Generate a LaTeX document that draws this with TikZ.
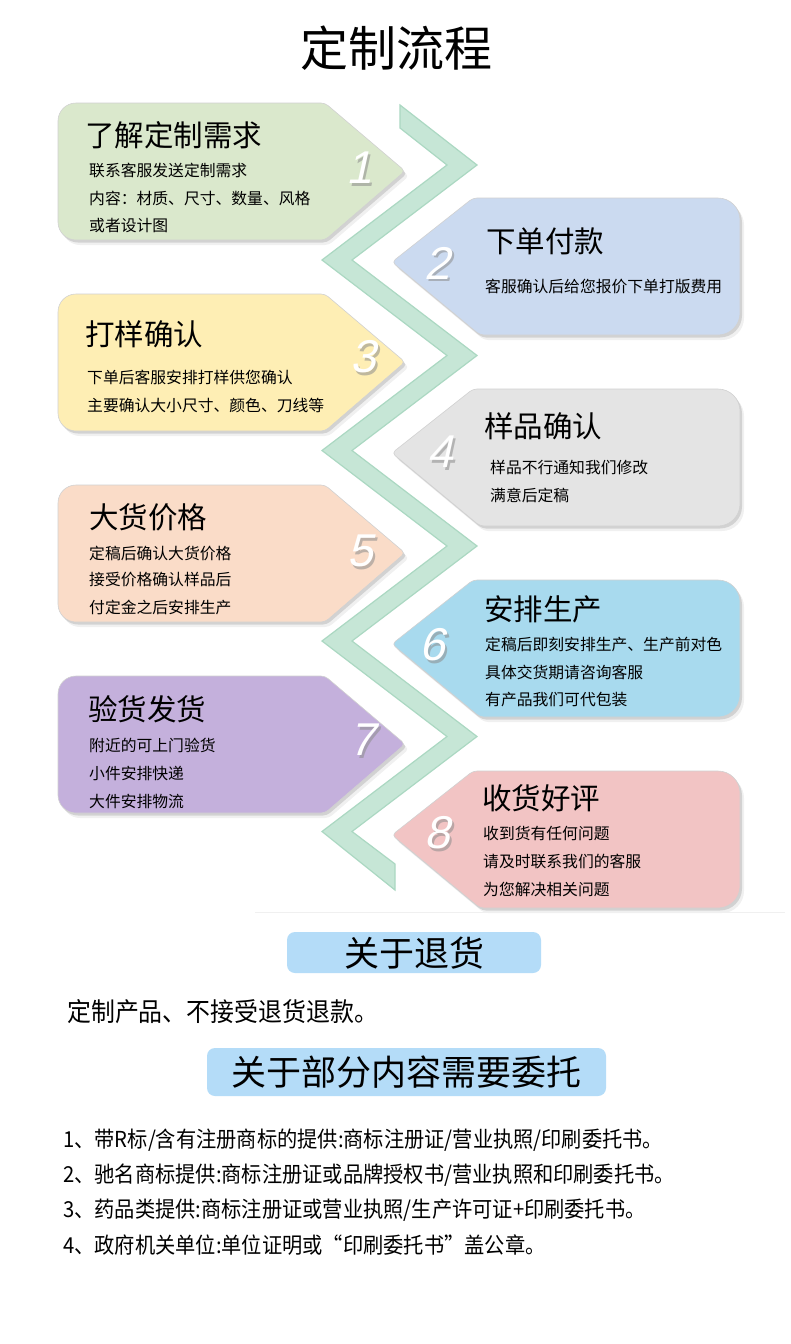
\documentclass[tikz,border=0pt]{standalone}
\usepackage{fontspec}
\setmainfont{Liberation Sans}
\newfontfamily\cjk{Noto Sans CJK SC}
\newfontfamily\cjkc[FakeStretch=0.92]{Noto Sans CJK SC}
\newfontfamily\numf[FakeSlant=0.22]{Liberation Sans}
\definecolor{cA}{HTML}{DAE8CC}
\definecolor{cB}{HTML}{CBDAF0}
\definecolor{cC}{HTML}{FEEEB4}
\definecolor{cD}{HTML}{E4E4E4}
\definecolor{cE}{HTML}{FADCC8}
\definecolor{cF}{HTML}{A8DAEE}
\definecolor{cG}{HTML}{C4B0DC}
\definecolor{cH}{HTML}{F2C4C4}
\definecolor{band}{HTML}{C6E6D6}
\definecolor{bandedge}{HTML}{ABD8C2}
\definecolor{hdbox}{HTML}{B4DCF8}
\newcommand\lcardpath[1]{[rounded corners=4] (325,#1) -- (405,{#1+68}) -- (325,{#1+137}) [rounded corners=18] -- (58,{#1+137}) -- (58,#1) [rounded corners=4] -- cycle}
\newcommand\rcardpath[1]{[rounded corners=4] (473,#1) -- (392,{#1+64}) -- (480,{#1+137}) [rounded corners=22] -- (740,{#1+137}) -- (740,#1) [rounded corners=4] -- cycle}
\newcommand\lcard[2]{%
  \fill[black, opacity=0.06, shift={(4,5)}] \lcardpath{#1};
  \fill[black, opacity=0.12, shift={(2,2.5)}] \lcardpath{#1};
  \filldraw[fill=#2, draw=black!18, line width=0.6] \lcardpath{#1};}
\newcommand\rcard[2]{%
  \fill[black, opacity=0.06, shift={(4,5)}] \rcardpath{#1};
  \fill[black, opacity=0.12, shift={(2,2.5)}] \rcardpath{#1};
  \filldraw[fill=#2, draw=black!18, line width=0.6] \rcardpath{#1};}
\tikzset{
  ttl/.style={font=\cjk\fontsize{29.5}{31}\selectfont, anchor=west, inner sep=0pt},
  bd/.style={font=\cjk\fontsize{15.8}{17}\selectfont, anchor=west, inner sep=0pt},
  numw/.style={font=\numf\fontsize{46}{46}\selectfont, text=white, inner sep=0pt},
  nums/.style={font=\numf\fontsize{46}{46}\selectfont, text=black!45, opacity=0.55, inner sep=0pt},
  hbox/.style={fill=hdbox, rounded corners=8},
  hdtxt/.style={font=\cjk\fontsize{35}{37}\selectfont, inner sep=0pt},
  lst/.style={font=\cjkc\fontsize{22}{24}\selectfont, anchor=west, inner sep=0pt}
}
\begin{document}
\begin{tikzpicture}[x=1pt,y=-1pt]
\useasboundingbox (0,0) rectangle (790,1344);
\fill[white] (0,0) rectangle (790,1344);

% title
\node[font=\cjk\fontsize{48}{50}\selectfont, inner sep=0pt] (title) at (396,48) {定制流程};

% zigzag band
\filldraw[fill=band, draw=bandedge, line width=1.2, line join=miter]
  (400,105) -- (477,165) -- (352,260) -- (477,355.5) -- (352,450.5) -- (477,546) -- (352,641) -- (477,736.5) -- (352,831.5) -- (395,864)
  -- (395,890) -- (322,831.5) -- (447,736.5) -- (322,641) -- (447,546) -- (322,450.5) -- (447,355.5) -- (322,260) -- (447,165) -- (400,128) -- cycle;

% cards
\lcard{103}{cA}
\rcard{198}{cB}
\lcard{294}{cC}
\rcard{389}{cD}
\lcard{485}{cE}
\rcard{580}{cF}
\lcard{676}{cG}
\rcard{771}{cH}

% numbers
\foreach \n/\x/\y in {1/359/168, 2/437/263, 3/363/357, 4/440/452, 5/360/551, 6/432/645, 7/362/740, 8/437/833}{
  \node[nums] (ns\n) at (\x+2,\y+2.5) {\n};
  \node[numw] (n\n) at (\x,\y) {\n};
}

% card 1
\node[ttl] (t1) at (85,135) {了解定制需求};
\node[bd] (b1a) at (89,170) {联系客服发送定制需求};
\node[bd] (b1b) at (89,198) {内容：材质、尺寸、数量、风格};
\node[bd] (b1c) at (89,226) {或者设计图};
% card 2
\node[ttl] (t2) at (486,241) {下单付款};
\node[bd] (b2a) at (485,286) {客服确认后给您报价下单打版费用};
% card 3
\node[ttl] (t3) at (85,334) {打样确认};
\node[bd] (b3a) at (87,377) {下单后客服安排打样供您确认};
\node[bd] (b3b) at (87,405) {主要确认大小尺寸、颜色、刀线等};
% card 4
\node[ttl] (t4) at (484,426) {样品确认};
\node[bd] (b4a) at (490,467) {样品不行通知我们修改};
\node[bd] (b4b) at (490,495) {满意后定稿};
% card 5
\node[ttl] (t5) at (89,517) {大货价格};
\node[bd] (b5a) at (89,553) {定稿后确认大货价格};
\node[bd] (b5b) at (89,580) {接受价格确认样品后};
\node[bd] (b5c) at (89,607) {付定金之后安排生产};
% card 6
\node[ttl] (t6) at (484,609) {安排生产};
\node[bd] (b6a) at (485,644) {定稿后即刻安排生产、生产前对色};
\node[bd] (b6b) at (485,672) {具体交货期请咨询客服};
\node[bd] (b6c) at (485,700) {有产品我们可代包装};
% card 7
\node[ttl] (t7) at (88,709) {验货发货};
\node[bd] (b7a) at (89,745) {附近的可上门验货};
\node[bd] (b7b) at (89,773) {小件安排快递};
\node[bd] (b7c) at (89,801) {大件安排物流};
% card 8
\node[ttl] (t8) at (482,798) {收货好评};
\node[bd] (b8a) at (483,833) {收到货有任何问题};
\node[bd] (b8b) at (483,861) {请及时联系我们的客服};
\node[bd] (b8c) at (483,889) {为您解决相关问题};

% separator
\draw[black!6, line width=1] (255,912) -- (785,912);

% return policy
\fill[hbox] (287,932) rectangle (541,973);
\node[hdtxt] (h1) at (414,953) {关于退货};
\node[font=\cjkc\fontsize{26}{28}\selectfont, anchor=west, inner sep=0pt] (p1) at (67,1012) {定制产品、不接受退货退款。};

% entrust
\fill[hbox] (207,1048) rectangle (606,1096);
\node[hdtxt] (h2) at (406,1072) {关于部分内容需要委托};
\node[lst] (l1) at (63,1140) {1、带R标/含有注册商标的提供:商标注册证/营业执照/印刷委托书。};
\node[lst] (l2) at (63,1175) {2、驰名商标提供:商标注册证或品牌授权书/营业执照和印刷委托书。};
\node[lst] (l3) at (63,1210) {3、药品类提供:商标注册证或营业执照/生产许可证+印刷委托书。};
\node[lst] (l4) at (63,1245) {4、政府机关单位:单位证明或“印刷委托书”盖公章。};
\end{tikzpicture}
\end{document}
